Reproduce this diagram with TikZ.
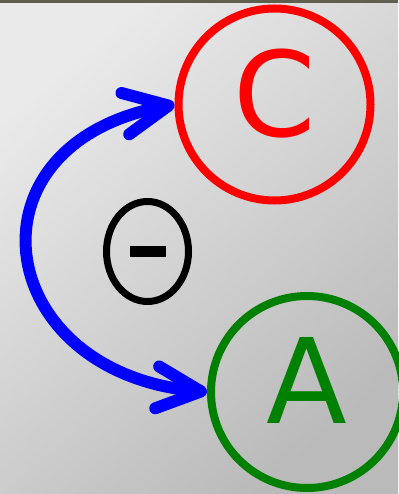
\documentclass[tikz,border=0pt]{standalone}
\usepackage{fontspec}
\setmainfont{DejaVu Sans}
\usepackage{xcolor}
\usetikzlibrary{shapes.geometric,arrows.meta}

\definecolor{bglight}{RGB}{234,234,234}
\definecolor{bgdark}{RGB}{186,186,186}
\definecolor{topband}{RGB}{94,95,78}

\begin{document}
\begin{tikzpicture}[x=1pt, y=-1pt,
    ring/.style={circle, line width=8pt, minimum size=192pt, inner sep=0pt,
        font=\fontsize{118}{130}\selectfont, text depth=24pt},
    link/.style={draw=blue, line width=12pt,
        {Straight Barb[length=44pt, width=42pt, round]}-{Straight Barb[length=44pt, width=42pt, round]}}]

    % background
    \useasboundingbox (0,0) rectangle (398,494);
    \shade[top color=bglight, bottom color=bgdark, shading angle=40] (0,0) rectangle (398,494);
    \fill[topband] (0,0) rectangle (398,3);

    \node[ring, draw=red, text=red] (C) at (274.5,104.5) {C};
    \node[ring, draw=green!50!black, text=green!50!black] (A) at (307,392) {A};
    \node[ellipse, draw, line width=7pt, minimum width=82pt, minimum height=100pt, inner sep=0pt] (neg) at (147.5,251.5) {\rule{36pt}{11pt}};

    \draw[link] (A.west) .. controls +(-215,-20) and +(-215,40) .. (C.west);
\end{tikzpicture}
\end{document}
